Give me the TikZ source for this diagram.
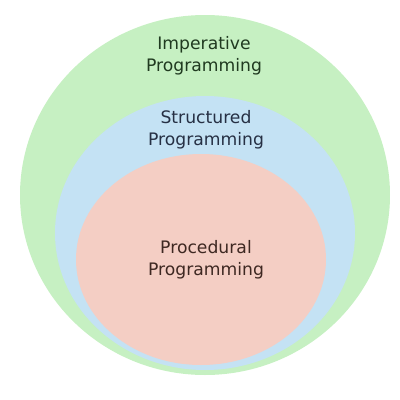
\documentclass[tikz,border=0pt]{standalone}
\usepackage{fontspec}
\setmainfont{DejaVu Sans}
\usepackage{xcolor}
\usepackage{tikz}
\usetikzlibrary{shapes.geometric, positioning}
\definecolor{impgreen}{RGB}{198,240,194}
\definecolor{strblue}{RGB}{196,226,244}
\definecolor{procpink}{RGB}{244,206,196}
\definecolor{imptext}{RGB}{32,58,32}
\definecolor{strtext}{RGB}{38,48,68}
\definecolor{proctext}{RGB}{62,40,34}
\tikzstyle{area} = [ellipse, inner sep=0pt, draw=none]
\tikzstyle{label} = [align=center, font=\fontsize{17.2}{22}\selectfont]

\begin{document}
\begin{tikzpicture}[x=1pt, y=-1pt]
\useasboundingbox (0,0) rectangle (400,400);
% Areas
\node (imperative) [area, fill=impgreen, minimum width=370pt, minimum height=360pt] at (205,195) {};
\node (structured) [area, fill=strblue, minimum width=300pt, minimum height=274pt] at (205,233) {};
\node (procedural) [area, fill=procpink, minimum width=250pt, minimum height=211pt] at (201,259.5) {};

% Labels
\node (imptitle) [label, text=imptext] at (204,55.5) {Imperative\\Programming};
\node (strtitle) [label, text=strtext] at (206,130) {Structured\\Programming};
\node (proctitle) [label, text=proctext] at (206,260) {Procedural\\Programming};
\end{tikzpicture}
\end{document}
